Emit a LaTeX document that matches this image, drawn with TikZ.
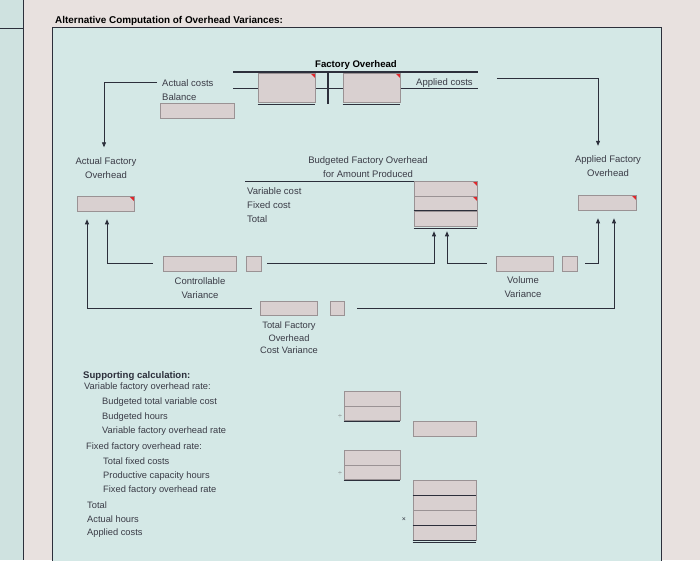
\documentclass[tikz,border=0pt]{standalone}
\usepackage{fontspec}
\setsansfont{Liberation Sans}
\usepackage{tikz}
\usetikzlibrary{arrows.meta, positioning, calc}
\definecolor{pageColor}{HTML}{E8E1DF}
\definecolor{panelColor}{HTML}{CFE2E0}
\definecolor{sheetColor}{HTML}{D4E8E6}
\definecolor{cellColor}{HTML}{D9D0D0}
\definecolor{cellEdge}{HTML}{9A9294}
\definecolor{inkColor}{HTML}{2C2F3B}
\definecolor{textColor}{HTML}{3A3B46}
\definecolor{flagColor}{HTML}{E0262B}

\begin{document}
\begin{tikzpicture}[x=1pt, y=-1pt, font=\sffamily\fontsize{9.5}{14}\selectfont, text=textColor, >={Triangle[length=5pt, width=4pt]},
        cellbox/.style={draw=cellEdge, fill=cellColor, line width=0.6pt, inner sep=0pt, minimum height=15pt},
        flagged/.style={cellbox, path picture={\fill[flagColor] (path picture bounding box.north east) -- ++(-5pt,0pt) -- ++(5pt,-5pt) -- cycle;}},
        lbl/.style={inner sep=1pt, align=center},
        txt/.style={anchor=west, inner sep=0pt},
        calc/.style={txt, font=\sffamily\fontsize{9.3}{11}\selectfont},
        link/.style={->, inkColor, line width=0.8pt},
        tline/.style={inkColor, line width=0.7pt}]
        % Page, side panel and sheet
        \fill[pageColor] (0,0) rectangle (700,560);
        \useasboundingbox (0,0) rectangle (700,560);
        \fill[panelColor] (0,0) rectangle (23,560);
        \draw[inkColor, line width=0.8pt] (23,0) -- (23,560);
        \draw[inkColor, line width=0.8pt] (0,28) -- (23,28);
        \draw[fill=sheetColor, draw=inkColor, line width=0.8pt] (52,27) rectangle (661,566);
        \node[txt, font=\sffamily\bfseries\fontsize{9.9}{11}\selectfont, text=black] (title) at (55,21) {Alternative Computation of Overhead Variances:};

        % Factory Overhead T-account
        \node[font=\sffamily\bfseries\fontsize{9.6}{11}\selectfont, text=black] (foHead) at (356,65) {Factory Overhead};
        \draw[inkColor, line width=1.1pt] (233,72) -- (478,72);
        \draw[tline] (233,88) -- (478,88);
        \node[flagged, minimum width=57pt, minimum height=29pt] (foDebit) at (286.5,87.5) {};
        \node[flagged, minimum width=57pt, minimum height=29pt] (foCredit) at (371.5,87.5) {};
        \draw[tline] ([yshift=-2.5pt]foDebit.south west) -- ([yshift=-2.5pt]foDebit.south east);
        \draw[tline] ([yshift=-2.5pt]foCredit.south west) -- ([yshift=-2.5pt]foCredit.south east);
        \draw[inkColor, line width=1.4pt] (328,72) -- (328,104);
        \node[txt] (actCost) at (162,83) {Actual costs};
        \node[txt] (balLbl) at (162,97) {Balance};
        \node[cellbox, minimum width=74pt] (balBox) at (197,110.5) {};
        \node[txt] (appCost) at (416,83) {Applied costs};

        % Actual and applied overhead
        \node[lbl] (actFO) at (106,168) {Actual Factory\\Overhead};
        \node[flagged, minimum width=57pt] (actBox) at (105.5,203.5) {};
        \node[lbl] (appFO) at (608,166.5) {Applied Factory\\Overhead};
        \node[flagged, minimum width=58pt] (appBox) at (607,202.5) {};
        \draw[link, shorten >=9pt] ([xshift=-5pt,yshift=1pt]actCost.west) -| ([xshift=-2pt]actFO.north);
        \draw[link, shorten >=9pt] ([xshift=24pt,yshift=5pt]appCost.east) -| ([xshift=-10pt]appFO.north);

        % Budgeted overhead for amount produced
        \node[lbl] (budLbl) at (368,167.5) {Budgeted Factory Overhead\\for Amount Produced};
        \draw[tline] (245,181) -- (477,181);
        \node[txt] (varCost) at (247,191) {Variable cost};
        \node[txt] (fixCost) at (247,205) {Fixed cost};
        \node[txt] (totCost) at (247,219) {Total};
        \node[flagged, minimum width=63pt] (budVar) at (445.5,188.5) {};
        \node[flagged, minimum width=63pt] (budFix) at (445.5,203.5) {};
        \node[cellbox, minimum width=63pt] (budTot) at (445.5,218.5) {};
        \draw[tline] (budTot.north west) -- (budTot.north east);
        \draw[tline] ([yshift=-2pt]budTot.south west) -- ([yshift=-2pt]budTot.south east);

        % Variances
        \node[cellbox, minimum width=73pt] (ctrlBox) at (199.5,263.5) {};
        \node[cellbox, minimum width=15pt] (ctrlSign) at (253.5,263.5) {};
        \node[lbl] (ctrlLbl) at (200,288) {Controllable\\Variance};
        \node[cellbox, minimum width=57pt] (volBox) at (524.5,263.5) {};
        \node[cellbox, minimum width=15pt] (volSign) at (570,263.5) {};
        \node[lbl] (volLbl) at (523,287) {Volume\\Variance};
        \node[cellbox, minimum width=57pt, minimum height=14pt] (totBox) at (288.5,308) {};
        \node[cellbox, minimum width=14pt, minimum height=14pt] (totSign) at (337,308) {};
        \node[lbl, font=\sffamily\fontsize{9.3}{12.5}\selectfont] (totLbl) at (289,338) {Total Factory\\Overhead\\Cost Variance};

        \draw[link, shorten >=8pt] ([xshift=-10pt]ctrlBox.west) -| ([xshift=1.5pt]actBox.south);
        \draw[link, shorten >=5pt] ([xshift=6pt]ctrlSign.east) -| ([xshift=-11.5pt]budTot.south);
        \draw[link, shorten >=5pt] ([xshift=-9pt]volBox.west) -| ([xshift=1.5pt]budTot.south);
        \draw[link, shorten >=8pt] ([xshift=7.5pt]volSign.east) -| ([xshift=-9pt]appBox.south);
        \draw[link, shorten >=8pt] ([xshift=-8pt]totBox.west) -| ([xshift=-18.5pt]actBox.south);
        \draw[link, shorten >=8pt] ([xshift=13pt]totSign.east) -| ([xshift=7pt]appBox.south);

        % Supporting calculation
        \node[txt, font=\sffamily\bfseries\fontsize{9.6}{11}\selectfont, text=inkColor] (supHead) at (83,376) {Supporting calculation:};
        \node[calc] (varRate) at (84,387) {Variable factory overhead rate:};
        \node[calc] (budVarCost) at (102,402) {Budgeted total variable cost};
        \node[calc] (budHours) at (102,417) {Budgeted hours};
        \node[calc] (varRateRes) at (102,431) {Variable factory overhead rate};
        \node[calc] (fixRate) at (86,447) {Fixed factory overhead rate:};
        \node[calc] (totFixCost) at (103,461) {Total fixed costs};
        \node[calc] (capHours) at (103,476) {Productive capacity hours};
        \node[calc] (fixRateRes) at (103,490) {Fixed factory overhead rate};
        \node[calc] (totRate) at (87,505) {Total};
        \node[calc] (actHours) at (87,519) {Actual hours};
        \node[calc] (appCosts) at (87,533) {Applied costs};

        \node[cellbox, minimum width=56pt, minimum height=14.5pt] (varTop) at (372,399) {};
        \node[cellbox, minimum width=56pt, minimum height=14.5pt] (varBot) at (372,413.5) {};
        \draw[inkColor, line width=1pt] (varBot.south west) -- (varBot.south east);
        \node[cellbox, minimum width=63pt] (varRes) at (444.5,428.5) {};
        \node[cellbox, minimum width=56pt, minimum height=14.5pt] (fixTop) at (372,458) {};
        \node[cellbox, minimum width=56pt, minimum height=14.5pt] (fixBot) at (372,472.5) {};
        \draw[inkColor, line width=1pt] (fixBot.south west) -- (fixBot.south east);
        \node[cellbox, minimum width=63pt] (costA) at (444.5,488) {};
        \node[cellbox, minimum width=63pt] (costB) at (444.5,502.5) {};
        \node[cellbox, minimum width=63pt] (costC) at (444.5,517.5) {};
        \node[cellbox, minimum width=63pt] (costD) at (444.5,532.5) {};
        \draw[tline] (costA.south west) -- (costA.south east);
        \draw[tline] (costC.south west) -- (costC.south east);
        \draw[tline] (costD.south west) -- (costD.south east);
        \draw[tline] ([yshift=-2pt]costD.south west) -- ([yshift=-2pt]costD.south east);
        \node[font=\sffamily\fontsize{7}{8}\selectfont, text=gray] (divVar) at (340,417) {÷};
        \node[font=\sffamily\fontsize{7}{8}\selectfont, text=gray] (divFix) at (340,474) {÷};
        \node[font=\sffamily\fontsize{7}{8}\selectfont, text=inkColor] (mulCost) at (404,520) {×};
    \end{tikzpicture}
\end{document}
